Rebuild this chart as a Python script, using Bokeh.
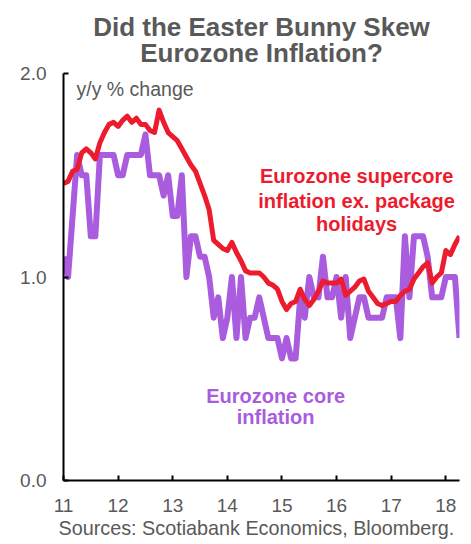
from bokeh.plotting import figure
from bokeh.models import Range1d, FixedTicker, NumeralTickFormatter, Label, Title
from bokeh.embed import file_html
from bokeh.resources import INLINE

# ---- data (monthly, Jan 2011 .. Apr 2018) ----
start_year = 11
core = [
    1.1, 1.0, 1.3, 1.6, 1.5, 1.5, 1.2, 1.2, 1.6, 1.6, 1.6, 1.6,   # 2011
    1.5, 1.5, 1.6, 1.6, 1.6, 1.6, 1.7, 1.5, 1.5, 1.5, 1.4, 1.5,   # 2012
    1.3, 1.3, 1.5, 1.0, 1.2, 1.2, 1.1, 1.1, 1.0, 0.8, 0.9, 0.7,   # 2013
    0.8, 1.0, 0.7, 1.0, 0.7, 0.8, 0.8, 0.9, 0.8, 0.7, 0.7, 0.7,   # 2014
    0.6, 0.7, 0.6, 0.6, 0.9, 0.8, 1.0, 0.9, 0.9, 1.1, 0.9, 0.9,   # 2015
    1.0, 0.8, 1.0, 0.7, 0.8, 0.9, 0.9, 0.8, 0.8, 0.8, 0.8, 0.9,   # 2016
    0.9, 0.9, 0.7, 1.2, 0.9, 1.2, 1.2, 1.2, 1.1, 0.9, 0.9, 0.9,   # 2017
    1.0, 1.0, 1.0, 0.7,                                           # 2018
]
supercore = [
    1.46, 1.47, 1.52, 1.53, 1.61, 1.63, 1.61, 1.58, 1.66, 1.71, 1.75, 1.76,  # 2011
    1.74, 1.77, 1.79, 1.76, 1.78, 1.75, 1.75, 1.72, 1.71, 1.82, 1.76, 1.71,  # 2012
    1.69, 1.67, 1.63, 1.59, 1.55, 1.52, 1.46, 1.40, 1.33, 1.18, 1.16, 1.14,  # 2013
    1.13, 1.17, 1.12, 1.08, 1.03, 1.02, 1.02, 1.02, 1.00, 0.97, 0.96, 0.94,  # 2014
    0.88, 0.84, 0.87, 0.88, 0.94, 0.89, 0.86, 0.89, 0.93, 0.98, 0.97, 0.97,  # 2015
    0.97, 0.99, 0.91, 0.93, 0.95, 0.98, 0.99, 0.93, 0.90, 0.87, 0.86, 0.87,  # 2016
    0.88, 0.88, 0.91, 0.93, 0.94, 0.99, 1.02, 1.05, 1.07, 0.97, 1.00, 1.02,  # 2017
    1.13, 1.11, 1.16, 1.20,                                                  # 2018
]
x_ticks = [11, 12, 13, 14, 15, 16, 17, 18]
y_ticks = [0.0, 1.0, 2.0]

x = [start_year + i / 12 for i in range(len(core))]

FONT = "Liberation Sans"
GREY = "#595959"
RED = "#EC1C2E"
PURPLE = "#A95CDD"

p = figure(width=471, height=544, output_backend="svg", toolbar_location=None,
           x_range=Range1d(11, 18.25), y_range=Range1d(0, 2.0),
           min_border_left=63, min_border_right=12, min_border_top=73, min_border_bottom=64)
p.outline_line_color = None
p.xgrid.visible = False
p.ygrid.visible = False
p.background_fill_color = "white"
p.border_fill_color = "white"

p.line(x, core, line_color=PURPLE, line_width=6, line_join="round")
p.line(x, supercore, line_color=RED, line_width=5, line_join="round")

for ax in (p.xaxis[0], p.yaxis[0]):
    ax.axis_line_color = "black"
    ax.axis_line_width = 2
    ax.major_tick_line_color = "black"
    ax.major_tick_line_width = 2
    ax.major_tick_in = 5
    ax.major_tick_out = 0
    ax.minor_tick_line_color = None
    ax.major_label_text_font = FONT
    ax.major_label_text_font_size = "19px"
    ax.major_label_text_color = GREY

p.xaxis[0].ticker = FixedTicker(ticks=x_ticks)
p.xaxis[0].formatter = NumeralTickFormatter(format="0")
p.xaxis[0].major_label_standoff = 18
p.yaxis[0].ticker = FixedTicker(ticks=y_ticks)
p.yaxis[0].formatter = NumeralTickFormatter(format="0.0")
p.yaxis[0].major_label_standoff = 17

# title: two lines, nearest-to-frame added first
p.add_layout(Title(text="Eurozone Inflation?", align="center", text_font=FONT,
                   text_font_size="26px", text_font_style="bold", text_color=GREY,
                   standoff=11, offset=-5), "above")
p.add_layout(Title(text="Did the Easter Bunny Skew", align="center", text_font=FONT,
                   text_font_size="26px", text_font_style="bold", text_color=GREY,
                   standoff=-23, offset=-2), "above")
# source
p.add_layout(Title(text="Sources: Scotiabank Economics, Bloomberg.", align="left",
                   text_font=FONT, text_font_size="19.8px", text_font_style="normal",
                   text_color=GREY, offset=-5, standoff=5, vertical_align="top"), "below")


def lab(xv, yv, text, size, color, bold=False, align="center"):
    p.add_layout(Label(x=xv, y=yv, text=text, text_font=FONT, text_font_size=size,
                       text_color=color, text_font_style="bold" if bold else "normal",
                       text_align=align, text_baseline="alphabetic"))


lab(11.238, 1.926, "y/y % change", "19.5px", GREY, align="left")
lab(16.366, 1.494, "Eurozone supercore", "20px", RED, bold=True)
lab(16.366, 1.372, "inflation ex. package", "20px", RED, bold=True)
lab(16.366, 1.258, "holidays", "20px", RED, bold=True)
lab(14.883, 0.415, "Eurozone core", "20px", PURPLE, bold=True)
lab(14.883, 0.314, "inflation", "20px", PURPLE, bold=True)

open("out.html", "w").write(file_html(p, INLINE))
